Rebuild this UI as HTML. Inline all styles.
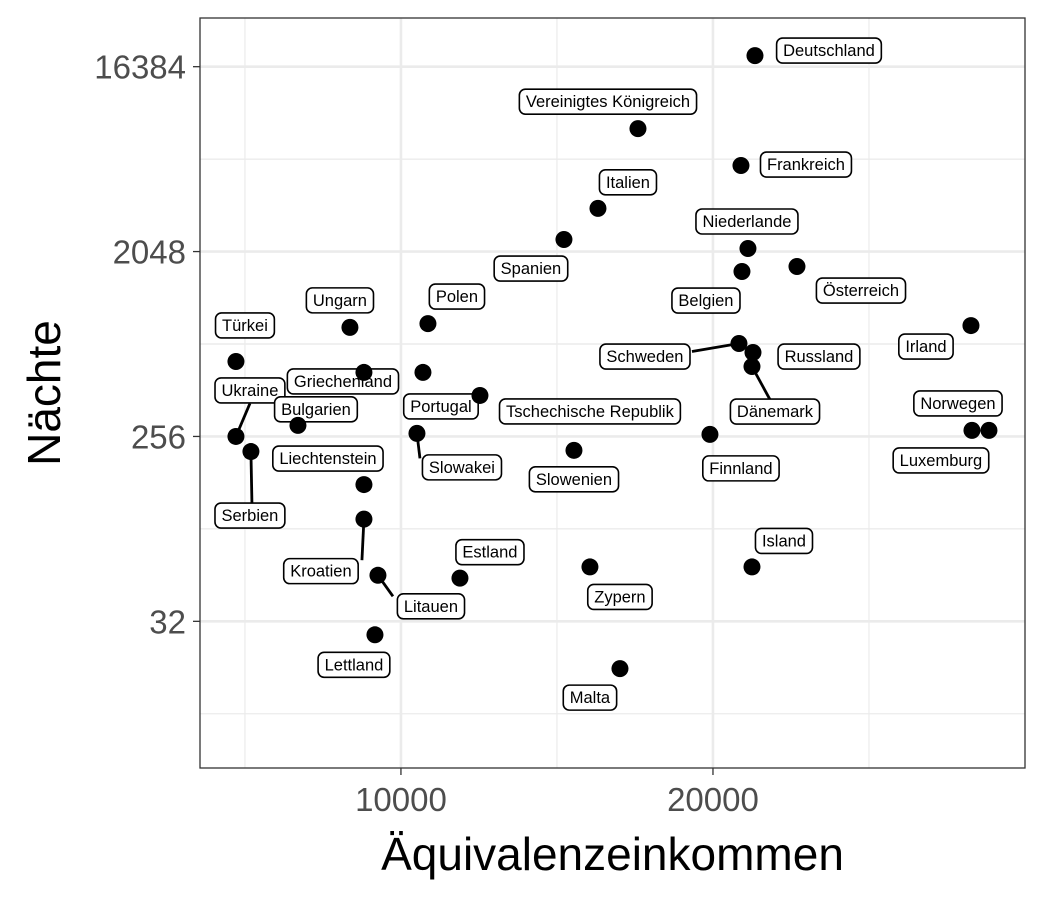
<!DOCTYPE html>
<html><head><meta charset="utf-8"><style>
body{margin:0;background:#fff}
svg text{font-family:"Liberation Sans","DejaVu Sans",sans-serif}
</style></head><body>
<svg id="chart" width="1050" height="900" xmlns="http://www.w3.org/2000/svg"></svg>
<script>
const countries=["Deutschland","Vereinigtes Königreich","Frankreich","Italien","Spanien","Niederlande","Belgien","Österreich","Irland","Ungarn","Polen","Türkei","Schweden","Russland","Dänemark","Griechenland","Portugal","Tschechische Republik","Ukraine","Bulgarien","Slowakei","Finnland","Norwegen","Luxemburg","Serbien","Slowenien","Liechtenstein","Kroatien","Zypern","Island","Litauen","Estland","Lettland","Malta"];
const income=[21346,17596,20897,16314,15224,21121,20929,22692,28268,8365,10865,4712,20833,21282,21250,8814,10705,12532,4712,6699,10513,19903,28845,28300,5192,15545,8814,8814,16057,21250,9263,11891,9167,17019];
const nights=[18560,8160,5390,3330,2345,2120,1636,1731,891,873,911,595,728,658,562,526,526,406,256,290,265,262,274,274,216,219,149,101,59,59,53.7,52,27.5,18.8];
const xTicks=[10000,20000];
const yTicks=[32,256,2048,16384];
// label offsets (layout, px)
const offX=[74,-30,65,30,-33,-1,-36,64,-45,-10,29,9,-94,66,23,-21,18,110,14,18,45,31,-31,-31,-1,0,-36,-43,30,32,53,30,-21,-30];
const offY=[-5,-27,-1,-26,29,-27,29,24,21,-27,-27,-36,13,4,45,9,34,16,-46,-16,34,34,-27,30,64,29,-26,52,30,-26,31,-26,30,29];
const seg={"Ukraine":[14,-33],"Serbien":[1,51],"Kroatien":[-2,41],"Litauen":[15,21],"Slowakei":[3,25],"Schweden":[-47,8],"Dänemark":[18,33]};

const L=200,R=1025,T=18,B=768;
const xMin=3560,xMax=30000,lyMin=2.62,lyMax=14.79;
const X=v=>L+(v-xMin)/(xMax-xMin)*(R-L);
const Y=v=>B-(Math.log2(v)-lyMin)/(lyMax-lyMin)*(B-T);
const svg=document.getElementById('chart');
const NS="http://www.w3.org/2000/svg";
function mk(t,a,p){const e=document.createElementNS(NS,t);for(const k in a)e.setAttribute(k,a[k]);(p||svg).appendChild(e);return e;}

const grid=mk('g',{});


[5000,15000,25000].forEach(v=>{const l=mk('line',{x1:X(v),x2:X(v),y1:T,y2:B,stroke:'#ebebeb','stroke-width':1.2},grid);});
for(let i=0;i<yTicks.length;i++){[yTicks[i]*Math.SQRT2*2,yTicks[i]/(Math.SQRT2*2)].forEach(v=>{const y=Y(v);if(y>T&&y<B){const l=mk('line',{x1:L,x2:R,y1:y,y2:y,stroke:'#ebebeb','stroke-width':1.2},grid);}});}
xTicks.forEach(v=>{const l=mk('line',{x1:X(v),x2:X(v),y1:T,y2:B,stroke:'#ebebeb','stroke-width':2.6},grid);});
yTicks.forEach(v=>{const l=mk('line',{x1:L,x2:R,y1:Y(v),y2:Y(v),stroke:'#ebebeb','stroke-width':2.6},grid);});

countries.forEach((c,i)=>{if(seg[c]){const px=X(income[i]),py=Y(nights[i]);const s=mk('line',{x1:px,y1:py,x2:px+seg[c][0],y2:py+seg[c][1],stroke:'#000','stroke-width':2.8});

}});
countries.forEach((c,i)=>{const cx=X(income[i])+offX[i],cy=Y(nights[i])+offY[i];
const g=mk('g',{});


const t=mk('text',{x:cx,y:cy+5.5,'text-anchor':'middle','font-size':16.5,fill:'#000'},g);t.textContent=c;
const w=t.getComputedTextLength()+13;
const r=mk('rect',{x:cx-w/2,y:cy-12.5,width:w,height:25,rx:6,fill:'#fff',stroke:'#000','stroke-width':1.6});
g.insertBefore(r,t);});
countries.forEach((c,i)=>{const p=mk('circle',{cx:X(income[i]),cy:Y(nights[i]),r:8.5,fill:'#000'});

});
const pb=mk('rect',{x:L,y:T,width:R-L,height:B-T,fill:'none',stroke:'#333','stroke-width':1.3});


xTicks.forEach(v=>{mk('line',{x1:X(v),x2:X(v),y1:B,y2:B+7,stroke:'#333','stroke-width':1.3});
const t=mk('text',{x:X(v),y:B+43,'text-anchor':'middle','font-size':33,fill:'#4d4d4d'});t.textContent=v;

});
yTicks.forEach(v=>{mk('line',{x1:L-7,x2:L,y1:Y(v),y2:Y(v),stroke:'#333','stroke-width':1.3});
const t=mk('text',{x:L-14,y:Y(v)+12,'text-anchor':'end','font-size':33,fill:'#4d4d4d'});t.textContent=v;

});
const xt=mk('text',{x:(L+R)/2,y:870,'text-anchor':'middle','font-size':46,fill:'#000'});xt.textContent='Äquivalenzeinkommen';


const yt=mk('text',{x:0,y:0,'text-anchor':'middle','font-size':46,fill:'#000',transform:'translate(60,393) rotate(-90)'});yt.textContent='Nächte';


</script>
</body></html>
